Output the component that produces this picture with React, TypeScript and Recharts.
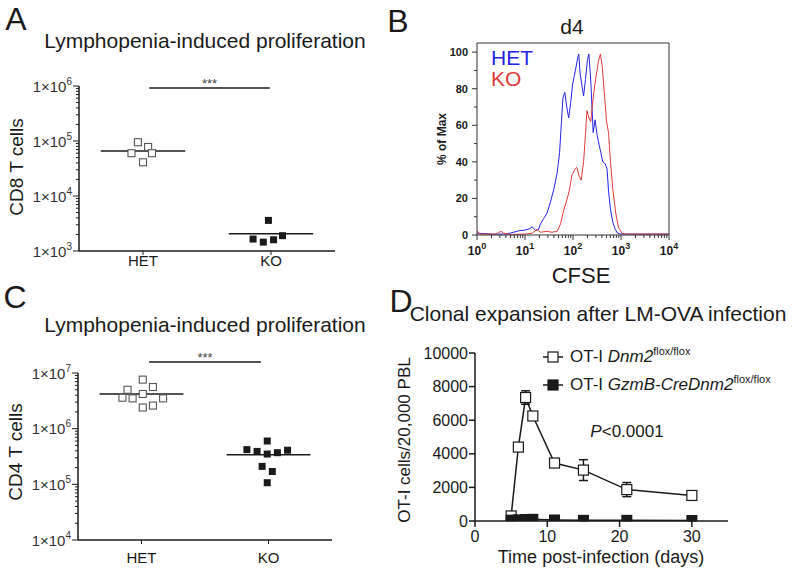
import React from 'react';
import {
  ScatterChart,
  Scatter,
  LineChart,
  Line,
  XAxis,
  YAxis,
  ReferenceLine,
  ErrorBar,
  Legend,
} from 'recharts';

const FONT = '"Liberation Sans", Arial, Helvetica, sans-serif';
const INK = '#1a1a1a';

// A: CD8 T cells, lymphopenia-induced proliferation
const groups = ['HET', 'KO'];
const cd8Het = [95000, 78000, 60000, 60000, 41000];
const cd8HetJitter = [-0.04, 0.04, -0.09, 0.07, 0];
const cd8Ko = [3600, 1650, 1450, 1600, 1900];
const cd8KoJitter = [-0.02, -0.14, -0.06, 0.02, 0.09];
const cd8Median = [66000, 2050];

// C: CD4 T cells
const cd4Het = [7600000, 5000000, 5600000, 4200000, 3600000, 3500000, 3500000, 2400000, 2600000];
const cd4HetJitter = [0.01, -0.11, 0.09, 0.01, -0.15, -0.07, 0.17, 0.01, 0.09];
const cd4Ko = [600000, 420000, 390000, 410000, 370000, 350000, 210000, 170000, 107000];
const cd4KoJitter = [-0.01, -0.17, -0.09, 0.15, 0.07, -0.01, -0.05, 0.03, -0.01];
const cd4Median = [4200000, 340000];

// B: CFSE histogram, d4 (% of max)
const cfseHet = [1, 2, 4, 5.8, 7.9, 9.3, 12.6, 14.1, 16.6, 19.1, 20.9, 24.5, 28.8, 33.9, 39.8, 46.8, 52.5, 57.5, 61.7, 67.6, 74.1, 81.3, 89.1, 97.7, 112, 126, 132, 141, 151, 166, 182, 200, 214, 234, 263, 288, 316, 339, 380, 417, 468, 513, 550, 603, 676, 759, 851, 1000, 10000];
const pctHet = [1, 0.5, 0.5, 1.5, 2.5, 2.5, 3.5, 4.5, 2.5, 3, 6, 9, 12, 18, 25, 34, 45, 62, 75, 78, 70, 64, 72, 82, 90, 97, 99, 88, 83, 76, 85, 96, 99, 85, 56, 63, 55, 51, 45, 40, 39, 36, 24, 14, 7, 3, 1, 0.5, 0.5];
const cfseKo = [1, 1.12, 2.51, 3.16, 3.55, 5.01, 10, 14.1, 17.8, 20.9, 28.8, 36.3, 46.8, 55, 64.6, 72.4, 83.2, 95.5, 110, 120, 135, 148, 166, 182, 195, 214, 234, 263, 295, 339, 372, 407, 457, 501, 550, 603, 676, 776, 891, 1047, 1259, 10000];
const pctKo = [2.5, 0.5, 0.5, 2, 1, 0.3, 0.5, 1, 3, 1.5, 2, 1.5, 2, 6, 14, 18, 24, 33, 36, 37, 32, 30, 40, 55, 68, 64, 62, 75, 85, 95, 99, 92, 75, 62, 56, 40, 25, 12, 4, 1, 0.5, 0.5];
const pctTicks = [0, 10, 20, 30, 40, 50, 60, 70, 80, 90, 100];

// D: clonal expansion after LM-OVA infection
const days = [5, 6, 7, 8, 11, 15, 21, 30];
const wtMean = [300, 4400, 7350, 6250, 3450, 3030, 1870, 1520];
const wtSem = [100, 150, 400, 150, 250, 620, 420, 230];
const koMean = [50, 70, 90, 100, 60, 40, 40, 30];
const koSem = [20, 20, 30, 30, 20, 20, 20, 20];
const dayTicks = [0, 10, 20, 30];
const cellTicks = [0, 2000, 4000, 6000, 8000, 10000];

const logTicks = (lo: number, hi: number) => {
  const t: number[] = [];
  for (let e = lo; e < hi; e++) for (let m = 1; m < 10; m++) t.push(m * 10 ** e);
  t.push(10 ** hi);
  return t;
};
const isDecade = (v: number) => Math.abs(Math.log10(v) - Math.round(Math.log10(v))) < 1e-9;

function SciTickY(props: any) {
  const { x = 0, y = 0, payload } = props;
  const v = payload?.value ?? 1;
  const major = isDecade(v);
  return (
    <g>
      <line x1={x} x2={x - (major ? 6 : 3)} y1={y} y2={y} stroke={INK} strokeWidth={1} />
      {major && (
        <text x={x - 7} y={y + 5.5} textAnchor="end" fontFamily={FONT} fontSize={15} fill="#333">
          1×10<tspan dy={-7} fontSize={10}>{Math.round(Math.log10(v))}</tspan>
        </text>
      )}
    </g>
  );
}

function FlowTickX(props: any) {
  const { x = 0, y = 0, payload } = props;
  const v = payload?.value ?? 1;
  const major = isDecade(v);
  return (
    <g>
      <line x1={x} x2={x} y1={y} y2={y + (major ? 5 : 3)} stroke="#333" />
      {major && (
        <text x={x} y={y + 20} textAnchor="middle" fontFamily={FONT} fontWeight="bold" fontSize={12} fill={INK}>
          10<tspan dy={-6} fontSize={9}>{Math.round(Math.log10(v))}</tspan>
        </text>
      )}
    </g>
  );
}

function FlowTickY(props: any) {
  const { x = 0, y = 0, payload } = props;
  const v = payload?.value ?? 0;
  const major = v % 20 === 0;
  return (
    <g>
      <line x1={x} x2={x - (major ? 5 : 3)} y1={y} y2={y} stroke="#333" />
      {major && (
        <text x={x - 9} y={y + 4} textAnchor="end" fontFamily={FONT} fontWeight="bold" fontSize={11} fill={INK}>
          {v}
        </text>
      )}
    </g>
  );
}

const openSq = (p: any) => (
  <rect x={p.cx - 3.5} y={p.cy - 3.5} width={7} height={7} fill="#fff" stroke="#555" strokeWidth={1.1} />
);
const fillSq = (p: any) => <rect x={p.cx - 3.5} y={p.cy - 3.5} width={7} height={7} fill={INK} />;

const openSqD = (p: any) =>
  p.cy == null ? <g key={p.index} /> : (
    <rect key={p.index} x={p.cx - 5} y={p.cy - 5} width={10} height={10} fill="#fff" stroke={INK} strokeWidth={1.2} />
  );
const fillSqD = (p: any) =>
  p.cy == null ? <g key={p.index} /> : (
    <rect key={p.index} x={p.cx - 5.5} y={p.cy - 5.5} width={11} height={11} fill={INK} />
  );

type DotPlotProps = {
  het: number[];
  hetJit: number[];
  ko: number[];
  koJit: number[];
  median: number[];
  sig: { x0: number; x1: number; y: number };
  lo: number;
  hi: number;
  height: number;
  margin: { top: number; right: number; bottom: number; left: number };
  labelGap: number;
};

function DotPlot({ het, hetJit, ko, koJit, median, sig, lo, hi, height, margin, labelGap }: DotPlotProps) {
  const hetPts = het.map((y, i) => ({ x: hetJit[i], y }));
  const koPts = ko.map((y, i) => ({ x: 1 + koJit[i], y }));
  return (
    <ScatterChart width={345} height={height} margin={margin}>
      <XAxis
        type="number"
        dataKey="x"
        domain={[-0.5, 1.5]}
        ticks={[0, 1]}
        interval={0}
        tickFormatter={(v) => groups[v as number]}
        tick={{ fontSize: 15, fill: INK, fontFamily: FONT }}
        tickSize={4}
        tickMargin={labelGap}
        height={25}
        axisLine={{ stroke: INK, strokeWidth: 1.5 }}
        tickLine={{ stroke: INK }}
        allowDataOverflow
      />
      <YAxis
        type="number"
        dataKey="y"
        scale="log"
        domain={[10 ** lo, 10 ** hi]}
        ticks={logTicks(lo, hi)}
        interval={0}
        tick={SciTickY}
        tickLine={false}
        tickSize={0}
        tickMargin={0}
        width={60}
        axisLine={{ stroke: INK, strokeWidth: 1.5 }}
        allowDataOverflow
      />
      {median.map((m, i) => (
        <ReferenceLine key={i} segment={[{ x: i - 0.33, y: m }, { x: i + 0.33, y: m }]} stroke={INK} strokeWidth={1.5} />
      ))}
      <ReferenceLine
        segment={[{ x: sig.x0, y: sig.y }, { x: sig.x1, y: sig.y }]}
        stroke={INK}
        strokeWidth={1.5}
        ifOverflow="visible"
        label={{ value: '***', position: 'top', offset: 0, fontSize: 13, fill: '#444', fontFamily: FONT }}
      />
      <Scatter data={hetPts} shape={openSq} isAnimationActive={false} />
      <Scatter data={koPts} shape={fillSq} isAnimationActive={false} />
    </ScatterChart>
  );
}

type TxtProps = {
  x: number;
  y: number;
  size: number;
  children: React.ReactNode;
  rotate?: number;
  bold?: boolean;
  color?: string;
  anchor?: 'start' | 'middle';
};

function Txt({ x, y, size, children, rotate, bold, color = INK, anchor = 'middle' }: TxtProps) {
  const tx = anchor === 'middle' ? '-50%' : '0';
  return (
    <div
      style={{
        position: 'absolute',
        left: x,
        top: y,
        transform: `translate(${tx}, -50%)${rotate ? ` rotate(${rotate}deg)` : ''}`,
        fontSize: size,
        lineHeight: 1.15,
        whiteSpace: 'nowrap',
        fontWeight: bold ? 'bold' : 'normal',
        color,
        fontFamily: FONT,
      }}
    >
      {children}
    </div>
  );
}

const legendItems = [
  { filled: false, gene: 'Dnm2' },
  { filled: true, gene: 'GzmB-CreDnm2' },
];

export default function App() {
  const hetCurve = cfseHet.map((x, i) => ({ x, pct: pctHet[i] }));
  const koCurve = cfseKo.map((x, i) => ({ x, pct: pctKo[i] }));
  const otiRows = days.map((day, i) => ({
    day,
    wt: wtMean[i],
    wtSem: wtSem[i],
    ko: koMean[i],
    koSem: koSem[i],
  }));

  return (
    <div
      style={{
        position: 'absolute',
        left: 0,
        top: 0,
        width: 793,
        height: 569,
        background: '#fff',
        overflow: 'hidden',
        fontFamily: FONT,
      }}
    >
      {/* A */}
      <div style={{ position: 'absolute', left: 0, top: 0 }}>
        <DotPlot
          het={cd8Het}
          hetJit={cd8HetJitter}
          ko={cd8Ko}
          koJit={cd8KoJitter}
          median={cd8Median}
          sig={{ x0: 0.05, x1: 0.99, y: 920000 }}
          lo={3}
          hi={6}
          height={290}
          margin={{ top: 86, right: 10, bottom: 14, left: 19 }}
          labelGap={0}
        />
      </div>

      {/* B */}
      <div style={{ position: 'absolute', left: 380, top: 0 }}>
        <LineChart width={300} height={290} margin={{ top: 43, right: 11, bottom: 30, left: 57 }}>
          <XAxis
            type="number"
            dataKey="x"
            scale="log"
            domain={[1, 10000]}
            ticks={logTicks(0, 4)}
            interval={0}
            tick={FlowTickX}
            tickLine={false}
            tickSize={0}
            tickMargin={0}
            height={25}
            axisLine={{ stroke: '#333' }}
            allowDataOverflow
          />
          <YAxis
            type="number"
            domain={[0, 105]}
            ticks={pctTicks}
            interval={0}
            tick={FlowTickY}
            tickLine={false}
            tickSize={0}
            tickMargin={0}
            width={40}
            axisLine={{ stroke: '#333' }}
            allowDataOverflow
          />
          <ReferenceLine y={105} stroke="#333" ifOverflow="visible" />
          <ReferenceLine x={10000} stroke="#333" ifOverflow="visible" />
          <Line data={hetCurve} dataKey="pct" type="linear" stroke="#2424e8" strokeWidth={1} dot={false} isAnimationActive={false} />
          <Line data={koCurve} dataKey="pct" type="linear" stroke="#e03a3a" strokeWidth={1} dot={false} isAnimationActive={false} />
        </LineChart>
      </div>

      {/* C */}
      <div style={{ position: 'absolute', left: 0, top: 280 }}>
        <DotPlot
          het={cd4Het}
          hetJit={cd4HetJitter}
          ko={cd4Ko}
          koJit={cd4KoJitter}
          median={cd4Median}
          sig={{ x0: 0.06, x1: 0.94, y: 15700000 }}
          lo={4}
          hi={7}
          height={289}
          margin={{ top: 93, right: 13, bottom: 4, left: 18 }}
          labelGap={8}
        />
      </div>

      {/* D */}
      <div style={{ position: 'absolute', left: 390, top: 290 }}>
        <LineChart width={403} height={279} data={otiRows} margin={{ top: 63, right: 65, bottom: 18, left: 30 }}>
          <XAxis
            type="number"
            dataKey="day"
            domain={[0, 35]}
            ticks={dayTicks}
            interval={0}
            tick={{ fontSize: 16, fill: INK, fontFamily: FONT }}
            tickSize={6}
            tickMargin={4}
            height={30}
            axisLine={{ stroke: INK, strokeWidth: 1.5 }}
            tickLine={{ stroke: INK, strokeWidth: 1.5 }}
            allowDataOverflow
          />
          <YAxis
            type="number"
            domain={[0, 10000]}
            ticks={cellTicks}
            interval={0}
            tick={{ fontSize: 16, fill: INK, fontFamily: FONT }}
            tickSize={6}
            tickMargin={1}
            width={55}
            axisLine={{ stroke: INK, strokeWidth: 1.5 }}
            tickLine={{ stroke: INK, strokeWidth: 1.5 }}
            allowDataOverflow
          />
          <Line dataKey="wt" type="linear" stroke={INK} strokeWidth={1.5} dot={openSqD} isAnimationActive={false}>
            <ErrorBar dataKey="wtSem" width={4.5} stroke={INK} strokeWidth={1.5} />
          </Line>
          <Line dataKey="ko" type="linear" stroke={INK} strokeWidth={1.5} dot={fillSqD} isAnimationActive={false}>
            <ErrorBar dataKey="koSem" width={4.5} stroke={INK} strokeWidth={1.5} />
          </Line>
          <Legend
            layout="vertical"
            align="center"
            verticalAlign="middle"
            wrapperStyle={{ left: 152, top: 53, width: 250 }}
            content={() => (
              <div>
                {legendItems.map((it) => (
                  <div
                    key={it.gene}
                    style={{
                      display: 'flex',
                      alignItems: 'center',
                      height: 28,
                      fontFamily: FONT,
                      fontSize: 17,
                      color: INK,
                      whiteSpace: 'nowrap',
                    }}
                  >
                    <svg width={22} height={12} style={{ marginRight: 6 }}>
                      <line x1={1} x2={21} y1={6} y2={6} stroke={INK} strokeWidth={1.5} />
                      <rect x={6} y={1} width={10} height={10} fill={it.filled ? INK : '#fff'} stroke={INK} strokeWidth={1.2} />
                    </svg>
                    <span>
                      OT-I <i>{it.gene}</i>
                      <sup style={{ fontSize: 11, lineHeight: 0 }}>flox/flox</sup>
                    </span>
                  </div>
                ))}
              </div>
            )}
          />
        </LineChart>
      </div>

      {/* text overlays */}
      <Txt x={16} y={19} size={32}>A</Txt>
      <Txt x={205} y={41} size={21}>Lymphopenia-induced proliferation</Txt>
      <Txt x={17} y={167} size={19} rotate={-90}>CD8 T cells</Txt>

      <Txt x={398} y={21} size={32}>B</Txt>
      <Txt x={572} y={27} size={21}>d4</Txt>
      <Txt x={443} y={139} size={12} bold rotate={-90}>% of Max</Txt>
      <Txt x={581} y={276} size={22}>CFSE</Txt>
      <Txt x={491} y={58} size={21} color="#2424e8" anchor="start">HET</Txt>
      <Txt x={491} y={79} size={21} color="#e03a3a" anchor="start">KO</Txt>

      <Txt x={15} y={297} size={32}>C</Txt>
      <Txt x={205} y={325} size={21}>Lymphopenia-induced proliferation</Txt>
      <Txt x={16} y={452} size={19} rotate={-90}>CD4 T cells</Txt>

      <Txt x={401} y={301} size={32}>D</Txt>
      <Txt x={598} y={314} size={21}>Clonal expansion after LM-OVA infection</Txt>
      <Txt x={405} y={440} size={17} rotate={-90}>OT-I cells/20,000 PBL</Txt>
      <Txt x={601} y={557} size={18}>Time post-infection (days)</Txt>
      <Txt x={627} y={432} size={17}>
        <i>P</i>&lt;0.0001
      </Txt>
    </div>
  );
}
